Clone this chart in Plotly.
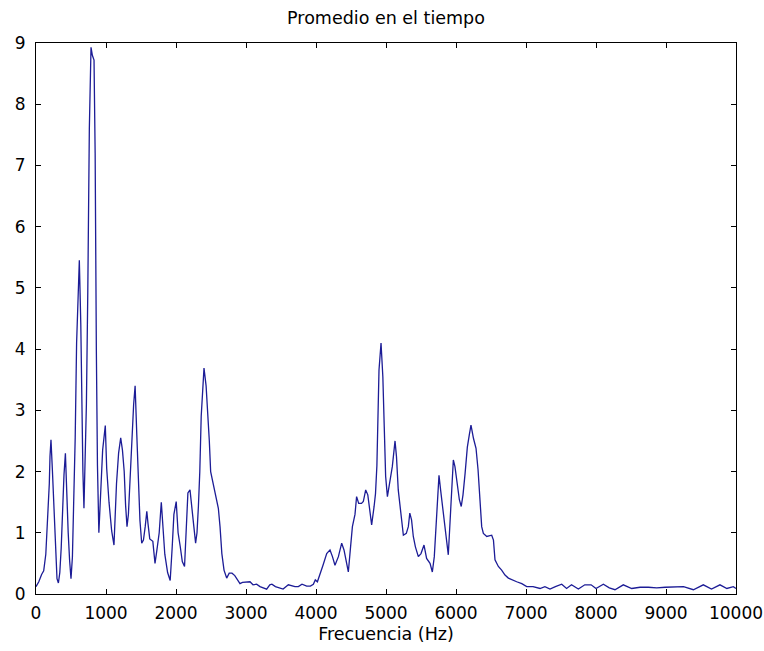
import plotly.graph_objects as go

freq_hz = [
    0, 40, 80, 110, 140, 170, 190, 200, 214, 235, 250, 270, 285, 300, 320, 340, 360, 380, 400, 420,
    440, 460, 480, 500, 520, 540, 560, 580, 600, 619, 640, 655, 670, 685, 700, 720, 740, 762, 786, 805,
    829, 845, 862, 878, 898, 924, 952, 990, 1010, 1043, 1081, 1114,
    1125, 1150, 1180, 1210, 1235, 1260, 1280,
    1300, 1320, 1345, 1370, 1395, 1416, 1440, 1464, 1485, 1510, 1535, 1560, 1583, 1600, 1625, 1669, 1700, 1725, 1760, 1790,
    1810, 1840, 1880, 1917, 1945, 1970, 2003, 2030, 2060, 2090, 2122, 2145, 2170, 2200, 2230, 2255, 2280, 2300, 2320, 2340,
    2360, 2380, 2400, 2430, 2455, 2476, 2495, 2524, 2555, 2581, 2605, 2629, 2655, 2686, 2724, 2760, 2800, 2840, 2880, 2914,
    2950, 3057, 3100, 3152, 3200, 3250, 3295, 3340, 3370, 3420, 3486, 3530, 3605, 3670, 3700, 3748, 3800, 3867, 3920, 3962,
    3990, 4020, 4057, 4100, 4153, 4200, 4235, 4271, 4320, 4367, 4400, 4430, 4462, 4490, 4520, 4557, 4580, 4610, 4650, 4676,
    4710, 4740, 4771, 4795, 4830, 4850, 4870, 4885, 4900, 4929, 4955, 4975, 4995, 5020, 5057, 5090, 5129, 5150, 5175, 5200,
    5225, 5248, 5290, 5319, 5340, 5365, 5390, 5420, 5462, 5500, 5543, 5580, 5629, 5662, 5690, 5714, 5735, 5757, 5780, 5805,
    5843, 5870, 5890, 5915, 5940, 5962, 5985, 6010, 6048, 6075, 6100, 6130, 6162, 6190, 6214, 6250, 6286, 6315, 6343, 6367,
    6391, 6440, 6510, 6535, 6557, 6605, 6652, 6700, 6748, 6800, 6867, 6940, 7010, 7100, 7200, 7270, 7343, 7420, 7510, 7580,
    7650, 7748, 7840, 7930, 8000, 8105, 8190, 8271, 8390, 8510, 8630, 8748, 8867, 8990, 9105, 9250, 9391, 9533, 9650, 9771,
    9870, 9962, 10000,
]

promedio = [
    0.12, 0.2, 0.32, 0.38, 0.65, 1.3, 1.8, 2.25, 2.52, 2.0, 1.6, 1.0, 0.6, 0.25, 0.18, 0.35, 0.75, 1.5, 1.95, 2.3,
    1.5, 1.0, 0.55, 0.25, 0.6, 1.4, 2.55, 4.1, 5.05, 5.45, 4.4, 3.0, 2.0, 1.4, 2.1, 3.1, 4.95, 7.6, 8.93, 8.8,
    8.72, 7.2, 4.0, 2.1, 1.0, 1.57, 2.35, 2.75, 2.05, 1.5, 1.03, 0.8,
    1.2, 1.8, 2.3, 2.55, 2.35, 2.0, 1.45,
    1.1, 1.3, 1.8, 2.5, 3.1, 3.4, 2.6, 1.76, 1.2, 0.83, 0.88, 1.1, 1.35, 1.15, 0.9, 0.86, 0.5, 0.7, 1.0, 1.5,
    1.15, 0.65, 0.35, 0.22, 0.75, 1.3, 1.51, 1.0, 0.78, 0.53, 0.45, 0.94, 1.65, 1.7, 1.32, 1.1, 0.83, 1.0, 1.43, 2.0,
    2.9, 3.4, 3.69, 3.4, 3.0, 2.5, 2.0, 1.85, 1.64, 1.5, 1.4, 1.1, 0.66, 0.39, 0.26, 0.34, 0.34, 0.3, 0.22, 0.17,
    0.19, 0.2, 0.15, 0.16, 0.12, 0.1, 0.08, 0.15, 0.16, 0.12, 0.1, 0.08, 0.15, 0.13, 0.12, 0.12, 0.16, 0.13, 0.13, 0.16,
    0.23, 0.2, 0.34, 0.47, 0.66, 0.72, 0.61, 0.47, 0.61, 0.83, 0.72, 0.56, 0.36, 0.72, 1.1, 1.3, 1.59, 1.48, 1.48, 1.51,
    1.7, 1.62, 1.37, 1.13, 1.43, 1.64, 2.1, 2.76, 3.66, 4.1, 3.55, 2.73, 1.92, 1.59, 1.86, 2.08, 2.5, 2.24, 1.7, 1.43,
    1.1, 0.96, 0.99, 1.1, 1.32, 1.21, 0.94, 0.77, 0.61, 0.66, 0.8, 0.58, 0.5, 0.36, 0.61, 1.1, 1.59, 1.94, 1.7, 1.43,
    1.1, 0.83, 0.64, 1.21, 1.75, 2.19, 2.08, 1.86, 1.54, 1.43, 1.62, 1.97, 2.4, 2.6, 2.76, 2.54, 2.38, 2.03, 1.54, 1.1,
    0.99, 0.94, 0.96, 0.88, 0.56, 0.45, 0.39, 0.31, 0.26, 0.23, 0.2, 0.17, 0.12, 0.12, 0.09, 0.12, 0.08, 0.12, 0.16, 0.09,
    0.15, 0.08, 0.15, 0.15, 0.09, 0.16, 0.1, 0.07, 0.15, 0.09, 0.11, 0.11, 0.1, 0.11, 0.11, 0.12, 0.07, 0.15, 0.08, 0.15,
    0.09, 0.12, 0.09,
]

x_ticks = [0, 1000, 2000, 3000, 4000, 5000, 6000, 7000, 8000, 9000, 10000]
y_ticks = [0, 1, 2, 3, 4, 5, 6, 7, 8, 9]

font_family = "DejaVu Sans"

fig = go.Figure()
fig.add_trace(go.Scatter(
    x=freq_hz, y=promedio, mode="lines",
    line=dict(color="#1c1c96", width=1.3),
    showlegend=False,
))

fig.update_layout(
    width=764, height=651,
    margin=dict(l=36, r=28, t=43, b=57),
    paper_bgcolor="white", plot_bgcolor="white",
    font=dict(family=font_family, size=17, color="black"),
    title=dict(text="Promedio en el tiempo", x=0.5, xref="paper",
               y=1 - 18 / 651, yref="container", yanchor="middle",
               font=dict(family=font_family, size=17.5, color="black")),
)

fig.update_xaxes(
    range=[0, 10000], tickvals=x_ticks, ticktext=[str(v) for v in x_ticks],
    ticks="inside", ticklen=5, tickcolor="black", tickwidth=1,
    showline=True, linecolor="black", linewidth=1, mirror="ticks",
    showgrid=False, zeroline=False, automargin=False,
    ticklabelstandoff=4,
    tickfont=dict(family=font_family, size=17),
    title=dict(text="Frecuencia (Hz)", standoff=5, font=dict(family=font_family, size=17.5)),
)
fig.update_yaxes(
    range=[0, 9], tickvals=y_ticks, ticktext=[str(v) for v in y_ticks],
    ticks="inside", ticklen=5, tickcolor="black", tickwidth=1,
    showline=True, linecolor="black", linewidth=1, mirror="ticks",
    showgrid=False, zeroline=False, automargin=False,
    ticklabelstandoff=6,
    tickfont=dict(family=font_family, size=17),
)

fig.write_html("out.html")
